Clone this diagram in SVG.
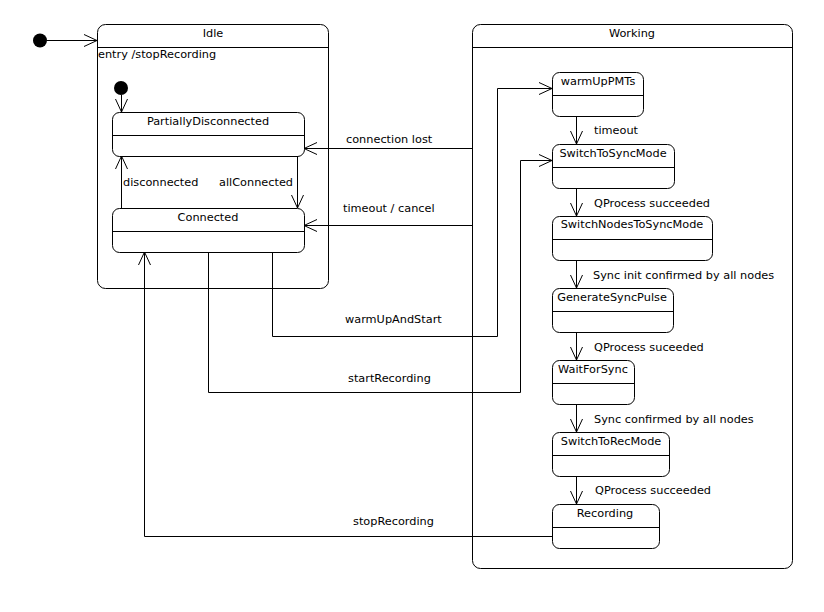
<svg xmlns="http://www.w3.org/2000/svg" width="824" height="612" viewBox="0 0 824 612">
<style>
.box{fill:#fff;stroke:#000;stroke-width:1}
.sep{stroke:#000;stroke-width:1}
.t{font-family:"DejaVu Sans",sans-serif;font-size:11.3px;fill:#000}
.m{text-anchor:middle}
.c{fill:none;stroke:#000;stroke-width:1;marker-end:url(#arr)}
</style>
<defs>
<marker id="arr" markerUnits="userSpaceOnUse" markerWidth="16" markerHeight="16" refX="14" refY="8" orient="auto" viewBox="0 0 16 16" overflow="visible">
<path d="M1,2 L14,8 L1,14" fill="none" stroke="#000" stroke-width="1"/>
</marker>
</defs>
<rect width="824" height="612" fill="#fff"/>
<g id="init"><circle cx="40" cy="40.5" r="7" fill="#000"/></g>
<g id="Idle">
<rect class="box" x="97.5" y="24.5" width="231" height="264" rx="8"/>
<line class="sep" x1="97" y1="47.5" x2="329" y2="47.5"/>
<text class="t m" x="213" y="37">Idle</text>
<text class="t" x="98" y="58">entry /stopRecording</text>
</g>
<g id="idleInit"><circle cx="121" cy="88" r="7" fill="#000"/></g>
<g id="PartiallyDisconnected">
<rect class="box" x="112.5" y="112.5" width="192" height="44" rx="7"/>
<line class="sep" x1="112" y1="135.5" x2="305" y2="135.5"/>
<text class="t m" x="208" y="125">PartiallyDisconnected</text>
</g>
<g id="Connected">
<rect class="box" x="112.5" y="208.5" width="192" height="44" rx="7"/>
<line class="sep" x1="112" y1="231.5" x2="305" y2="231.5"/>
<text class="t m" x="208" y="221">Connected</text>
</g>
<g id="Working">
<rect class="box" x="472.5" y="24.5" width="320" height="544" rx="8"/>
<line class="sep" x1="472" y1="47.5" x2="793" y2="47.5"/>
<text class="t m" x="632" y="37">Working</text>
</g>
<g id="warmUpPMTs">
<rect class="box" x="552.5" y="72.5" width="91" height="44" rx="7"/>
<line class="sep" x1="552" y1="95.5" x2="644" y2="95.5"/>
<text class="t m" x="598" y="85">warmUpPMTs</text>
</g>
<g id="SwitchToSyncMode">
<rect class="box" x="552.5" y="144.5" width="122" height="44" rx="7"/>
<line class="sep" x1="552" y1="167.5" x2="675" y2="167.5"/>
<text class="t m" x="613" y="157">SwitchToSyncMode</text>
</g>
<g id="SwitchNodesToSyncMode">
<rect class="box" x="552.5" y="216.5" width="160" height="44" rx="7"/>
<line class="sep" x1="552" y1="239.5" x2="713" y2="239.5"/>
<text class="t m" x="632" y="228">SwitchNodesToSyncMode</text>
</g>
<g id="GenerateSyncPulse">
<rect class="box" x="552.5" y="288.5" width="121" height="44" rx="7"/>
<line class="sep" x1="552" y1="311.5" x2="674" y2="311.5"/>
<text class="t m" x="612" y="301">GenerateSyncPulse</text>
</g>
<g id="WaitForSync">
<rect class="box" x="552.5" y="360.5" width="82" height="44" rx="7"/>
<line class="sep" x1="552" y1="383.5" x2="635" y2="383.5"/>
<text class="t m" x="593" y="373">WaitForSync</text>
</g>
<g id="SwitchToRecMode">
<rect class="box" x="552.5" y="432.5" width="117" height="44" rx="7"/>
<line class="sep" x1="552" y1="455.5" x2="670" y2="455.5"/>
<text class="t m" x="611" y="445">SwitchToRecMode</text>
</g>
<g id="Recording">
<rect class="box" x="552.5" y="504.5" width="107" height="44" rx="7"/>
<line class="sep" x1="552" y1="527.5" x2="660" y2="527.5"/>
<text class="t m" x="605" y="517">Recording</text>
</g>
<g id="connectors">
<path class="c" d="M47,40.5 H97"/>
<path class="c" d="M121.5,95 V112"/>
<path class="c" d="M121.5,208 V156"/>
<path class="c" d="M297.5,156 V208"/>
<path class="c" d="M472,148.5 H304"/>
<path class="c" d="M472,225.5 H304"/>
<path class="c" d="M272.5,252 V336.5 H497.5 V88.5 H552"/>
<path class="c" d="M208.5,252 V392.5 H520.5 V160.5 H552"/>
<path class="c" d="M552,536.5 H144.5 V252"/>
<path class="c" d="M576.5,116 V144"/>
<path class="c" d="M576.5,188 V216"/>
<path class="c" d="M576.5,260 V288"/>
<path class="c" d="M576.5,332 V360"/>
<path class="c" d="M576.5,404 V432"/>
<path class="c" d="M576.5,476 V504"/>
<text class="t" x="123" y="186">disconnected</text>
<text class="t" x="219" y="186">allConnected</text>
<text class="t" x="346" y="143">connection lost</text>
<text class="t" x="343" y="212">timeout / cancel</text>
<text class="t" x="345" y="323">warmUpAndStart</text>
<text class="t" x="348" y="382">startRecording</text>
<text class="t" x="353" y="525">stopRecording</text>
<text class="t" x="594" y="134">timeout</text>
<text class="t" x="594" y="207">QProcess succeeded</text>
<text class="t" x="593" y="279">Sync init confirmed by all nodes</text>
<text class="t" x="594" y="351">QProcess suceeded</text>
<text class="t" x="594" y="423">Sync confirmed by all nodes</text>
<text class="t" x="595" y="494">QProcess succeeded</text>
</g>
</svg>
